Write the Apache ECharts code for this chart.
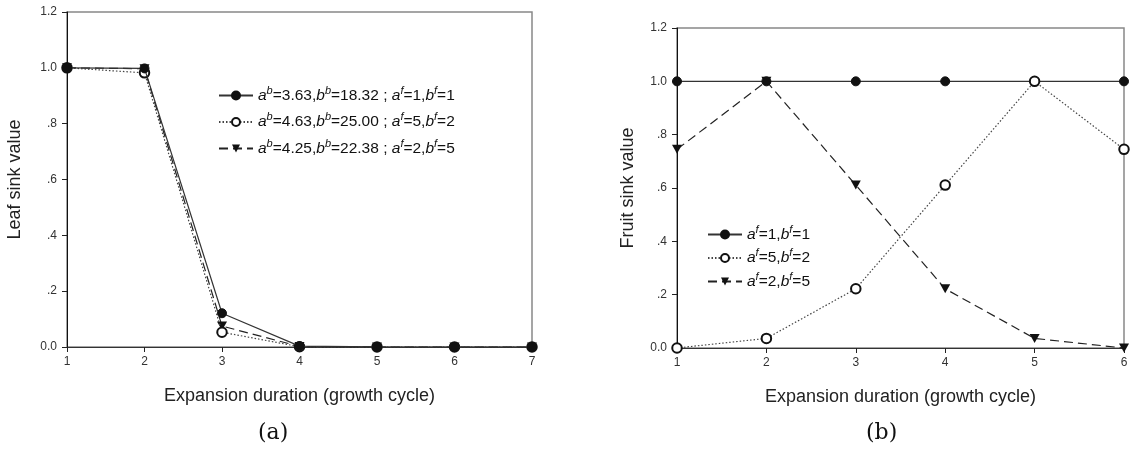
<!DOCTYPE html>
<html>
<head>
<meta charset="utf-8">
<script src="https://cdn.jsdelivr.net/npm/echarts@6/dist/echarts.min.js"></script>
<style>html,body{margin:0;padding:0;background:#fff;}#c{width:1131px;height:458px;}</style>
</head>
<body>
<div id="c"></div>
<script>
// ---- data ----
const xLeft = [1, 2, 3, 4, 5, 6, 7];
const leafA = [1.0, 0.998, 0.121, 0.003, 0.0005, 0.0, 0.0];
const leafB = [1.0, 0.982, 0.053, 0.001, 0.0, 0.0, 0.0];
const leafC = [1.0, 0.997, 0.075, 0.002, 0.0, 0.0, 0.0];

const xRight = [1, 2, 3, 4, 5, 6];
const fruitA = [1.0, 1.0, 1.0, 1.0, 1.0, 1.0];
const fruitB = [0.0, 0.036, 0.222, 0.611, 1.0, 0.745];
const fruitC = [0.745, 1.0, 0.611, 0.222, 0.036, 0.0];

const yTickLabels = ['0.0', '.2', '.4', '.6', '.8', '1.0', '1.2'];
const xTitle = 'Expansion duration (growth cycle)';
const leftYTitle = 'Leaf sink value';
const rightYTitle = 'Fruit sink value';
const leftNames = ['L1', 'L2', 'L3'];
const rightNames = ['R1', 'R2', 'R3'];
const legendText = {
  L1: '{i|a}{s|b}{n|=3.63,}{i|b}{s|b}{n|=18.32 ; }{i|a}{s|f}{n|=1,}{i|b}{s|f}{n|=1}',
  L2: '{i|a}{s|b}{n|=4.63,}{i|b}{s|b}{n|=25.00 ; }{i|a}{s|f}{n|=5,}{i|b}{s|f}{n|=2}',
  L3: '{i|a}{s|b}{n|=4.25,}{i|b}{s|b}{n|=22.38 ; }{i|a}{s|f}{n|=2,}{i|b}{s|f}{n|=5}',
  R1: '{i|a}{s|f}{n|=1,}{i|b}{s|f}{n|=1}',
  R2: '{i|a}{s|f}{n|=5,}{i|b}{s|f}{n|=2}',
  R3: '{i|a}{s|f}{n|=2,}{i|b}{s|f}{n|=5}'
};

const FONT = 'Liberation Sans, Arial, sans-serif';
const tri = 'path://M0,0L10,0L5,9Z';
const richStyle = {
  n: {fontSize: 15.5, fontFamily: FONT, color: '#111'},
  i: {fontSize: 15.5, fontFamily: FONT, fontStyle: 'italic', color: '#111'},
  s: {fontSize: 11, fontFamily: FONT, fontStyle: 'italic', color: '#111', padding: [0, 0, 10, 0]}
};

function pairs(xs, ys) { return xs.map((x, k) => [x, ys[k]]); }

function xAxisCfg(gi, max) {
  return {
    gridIndex: gi, type: 'value', min: 1, max: max, interval: 1,
    name: xTitle, nameLocation: 'middle', nameGap: 40,
    nameTextStyle: {fontSize: 18, fontFamily: FONT, color: '#222'},
    axisLine: {show: true, onZero: false, lineStyle: {color: '#333', width: 1}},
    axisTick: {show: true, length: 5, lineStyle: {color: '#222'}},
    axisLabel: {fontSize: 12, fontFamily: FONT, color: '#333', margin: 9},
    splitLine: {show: false}
  };
}
function yAxisCfg(gi, title, gap) {
  return {
    gridIndex: gi, type: 'value', min: 0, max: 1.2, interval: 0.2,
    name: title, nameLocation: 'middle', nameGap: gap, nameRotate: 90,
    nameTextStyle: {fontSize: 18, fontFamily: FONT, color: '#222'},
    axisLine: {show: true, onZero: false, lineStyle: {color: '#111', width: 1}},
    axisTick: {show: true, length: 5, lineStyle: {color: '#222'}},
    axisLabel: {fontSize: 12, fontFamily: FONT, color: '#333', margin: 10,
      formatter: (v) => yTickLabels[Math.round(v / 0.2)]},
    splitLine: {show: false}
  };
}
function ser(name, gi, xs, ys, kind, z) {
  const base = {
    name: name, type: 'line', xAxisIndex: gi, yAxisIndex: gi,
    data: pairs(xs, ys), clip: false, z: z
  };
  if (kind === 'solid') {
    base.symbol = 'circle'; base.symbolSize = 9;
    base.itemStyle = {color: '#111', borderColor: '#111', borderWidth: 1};
    base.lineStyle = {color: '#333', width: 1.2, type: 'solid'};
  } else if (kind === 'dotted') {
    base.symbol = 'emptyCircle'; base.symbolSize = 9.5;
    base.itemStyle = {color: '#111', borderColor: '#111', borderWidth: 1.1};
    base.lineStyle = {color: '#444', width: 1.2, type: [1.5, 2]};
  } else {
    base.symbol = tri; base.symbolSize = [10, 9];
    base.itemStyle = {color: '#111'};
    base.lineStyle = {color: '#222', width: 1.2, type: [9, 5]};
  }
  return base;
}

const chart = echarts.init(document.getElementById('c'), null, {renderer: 'canvas'});
chart.setOption({
  backgroundColor: '#fff',
  animation: false,
  grid: [
    {left: 67, top: 12, width: 465, height: 335, show: true, borderColor: '#888', borderWidth: 1.5, backgroundColor: 'transparent'},
    {left: 677, top: 28, width: 447, height: 320, show: true, borderColor: '#888', borderWidth: 1.5, backgroundColor: 'transparent'}
  ],
  xAxis: [xAxisCfg(0, 7), xAxisCfg(1, 6)],
  yAxis: [yAxisCfg(0, leftYTitle, 43), yAxisCfg(1, rightYTitle, 40)],
  legend: [
    {data: leftNames, orient: 'vertical', left: 213, top: 80, itemWidth: 34, itemHeight: 10, itemGap: 8,
     formatter: (n) => legendText[n], textStyle: {rich: richStyle}},
    {data: rightNames, orient: 'vertical', left: 702, top: 219, itemWidth: 34, itemHeight: 10, itemGap: 5,
     formatter: (n) => legendText[n], textStyle: {rich: richStyle}}
  ],
  graphic: [
    {type: 'text', left: 258, top: 422, style: {text: '(a)', fontSize: 22, fontFamily: 'DejaVu Serif, Liberation Serif, serif', fill: '#111'}},
    {type: 'text', left: 866, top: 422, style: {text: '(b)', fontSize: 22, fontFamily: 'DejaVu Serif, Liberation Serif, serif', fill: '#111'}}
  ],
  series: [
    ser('L1', 0, xLeft, leafA, 'solid', 7),
    ser('L2', 0, xLeft, leafB, 'dotted', 6),
    ser('L3', 0, xLeft, leafC, 'dashed', 5),
    ser('R1', 1, xRight, fruitA, 'solid', 7),
    ser('R2', 1, xRight, fruitB, 'dotted', 8),
    ser('R3', 1, xRight, fruitC, 'dashed', 5)
  ]
});
</script>
</body>
</html>
